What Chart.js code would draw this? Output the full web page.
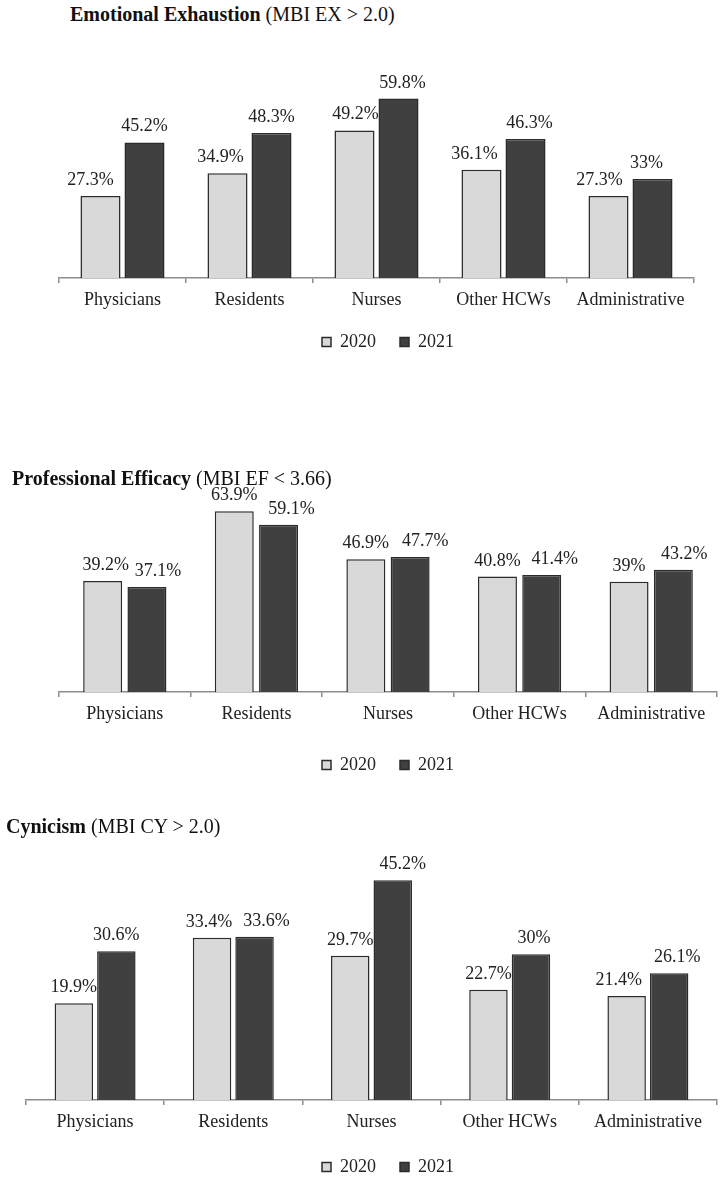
<!DOCTYPE html>
<html>
<head>
<meta charset="utf-8">
<script src="https://cdn.jsdelivr.net/npm/chart.js@4"></script>
<style>
    html, body { margin: 0; padding: 0; background: #fff; }
    body { width: 726px; height: 1181px; position: relative; overflow: hidden; font-family: "Liberation Serif", "Times New Roman", serif; }
    .title { position: absolute; font-size: 20px; line-height: 20px; color: #111; white-space: nowrap; z-index: 2; }
    .box { position: absolute; left: 0; width: 726px; }
</style>
</head>
<body>
<div class="title" style="left:70px; top:4px;"><b>Emotional Exhaustion</b> (MBI EX &gt; 2.0)</div>
<div class="box" style="top:40px; height:321px;"><canvas id="exChart"></canvas></div>

<div class="title" style="left:12px; top:468px;"><b>Professional Efficacy</b> (MBI EF &lt; 3.66)</div>
<div class="box" style="top:470px; height:314px;"><canvas id="efChart"></canvas></div>

<div class="title" style="left:6px; top:816px;"><b>Cynicism</b> (MBI CY &gt; 2.0)</div>
<div class="box" style="top:835px; height:351px;"><canvas id="cyChart"></canvas></div>

<script>
const categories = ['Physicians', 'Residents', 'Nurses', 'Other HCWs', 'Administrative'];
const years = ['2020', '2021'];

// Emotional Exhaustion
const ex2020 = [27.3, 34.9, 49.2, 36.1, 27.3];
const ex2021 = [45.2, 48.3, 59.8, 46.3, 33];
// Professional Efficacy
const ef2020 = [39.2, 63.9, 46.9, 40.8, 39];
const ef2021 = [37.1, 59.1, 47.7, 41.4, 43.2];
// Cynicism
const cy2020 = [19.9, 33.4, 29.7, 22.7, 21.4];
const cy2021 = [30.6, 33.6, 45.2, 30, 26.1];

Chart.defaults.font.family = '"Liberation Serif", "Times New Roman", serif';
Chart.defaults.font.size = 18;
Chart.defaults.color = '#222';

// value labels above bars (nudged sideways like the original)
const valueLabels = {
    id: 'valueLabels',
    afterDatasetsDraw(chart, args, opts) {
        const ctx = chart.ctx;
        ctx.save();
        ctx.font = '18px "Liberation Serif", "Times New Roman", serif';
        ctx.fillStyle = '#222';
        ctx.textAlign = 'center';
        ctx.textBaseline = 'alphabetic';
        chart.data.datasets.forEach((ds, di) => {
            const meta = chart.getDatasetMeta(di);
            meta.data.forEach((bar, i) => {
                const dx = (opts.nudge && opts.nudge[di]) ? opts.nudge[di][i] : 0;
                ctx.fillText(ds.data[i] + '%', bar.x + dx, bar.y - 11);
            });
        });
        ctx.restore();
    }
};

// keep the legend centred at a fixed x
const legendCenter = {
    id: 'legendCenter',
    afterLayout(chart, args, opts) {
        const lg = chart.legend;
        if (!lg || opts.x == null) return;
        const w = lg.right - lg.left;
        lg.left = opts.x - w / 2;
        lg.right = opts.x + w / 2;
    }
};

function makeChart(id, d2020, d2021, cfg) {
    const ctx = document.getElementById(id).getContext('2d');
    return new Chart(ctx, {
        type: 'bar',
        data: {
            labels: categories,
            datasets: [{
                label: years[0],
                data: d2020,
                backgroundColor: '#d9d9d9',
                borderColor: '#2b2b2b',
                borderWidth: 1.5,
                categoryPercentage: cfg.catPct,
                barPercentage: cfg.barPct
            }, {
                label: years[1],
                data: d2021,
                backgroundColor: '#404040',
                borderColor: '#2b2b2b',
                borderWidth: 1.5,
                categoryPercentage: cfg.catPct,
                barPercentage: cfg.barPct
            }]
        },
        options: {
            responsive: true,
            maintainAspectRatio: false,
            animation: false,
            layout: { padding: cfg.padding },
            scales: {
                x: {
                    grid: { drawOnChartArea: false, drawTicks: true, tickLength: 5, color: '#8c8c8c', lineWidth: 1.5 },
                    border: { display: true, color: '#8c8c8c', width: 1.5 },
                    ticks: { padding: 6, maxRotation: 0, autoSkip: false, color: '#222' },
                    afterFit: s => { s.height = cfg.axisH; }
                },
                y: {
                    display: false,
                    min: 0,
                    max: cfg.max
                }
            },
            plugins: {
                legend: {
                    position: 'bottom',
                    labels: { boxWidth: 9, boxHeight: 9, padding: 24, color: '#222' }
                },
                tooltip: { enabled: false },
                valueLabels: { nudge: cfg.nudge },
                legendCenter: { x: 388 }
            }
        },
        plugins: [valueLabels, legendCenter]
    });
}

makeChart('exChart', ex2020, ex2021, {
    catPct: 0.693, barPct: 0.91, max: 65, axisH: 31,
    padding: { top: 43, bottom: 0, left: 59, right: 32 },
    nudge: [[-10, -7, 1, -7, -9], [0, 0, 4, 4, -6]]
});

makeChart('efChart', ef2020, ef2021, {
    catPct: 0.673, barPct: 0.88, max: 70, axisH: 40,
    padding: { top: 24, bottom: 0, left: 59, right: 9 },
    nudge: [[3, 0, 0, 0, 0], [11, 13, 15, 13, 11]]
});

makeChart('cyChart', cy2020, cy2021, {
    catPct: 0.615, barPct: 0.905, max: 50, axisH: 34,
    padding: { top: 22, bottom: 0, left: 26, right: 9 },
    nudge: [[0, -3, 0, 0, -8], [0, 12, 10, 3, 8]]
});
</script>
</body>
</html>
